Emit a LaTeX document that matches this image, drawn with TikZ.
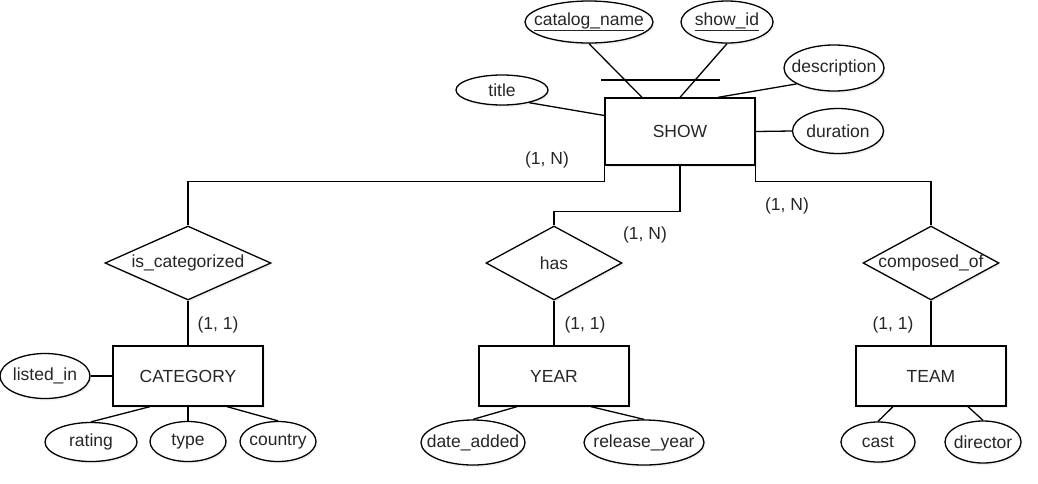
\documentclass[tikz,border=0pt]{standalone}
\usepackage{fontspec}
\setmainfont{Liberation Sans}
\usetikzlibrary{shapes.geometric, shadows}

\begin{document}
\begin{tikzpicture}[
            x=1pt, y=-1pt,
            font=\fontsize{17.5pt}{21pt}\selectfont,
            line width=1.3pt,
            every label/.style={text=black!85},
            soft shadow/.style={
                drop shadow={shadow xshift=1.5pt, shadow yshift=-2pt, opacity=0.12}
            },
            entity/.style={
                rectangle, draw, fill=white, soft shadow,
                minimum width=150pt, minimum height=60pt, inner sep=0pt
            },
            relation/.style={
                diamond, draw, fill=white, soft shadow,
                minimum width=#1, minimum height=74pt, inner sep=0pt
            },
            attr/.style 2 args={
                ellipse, draw, fill=white, soft shadow,
                minimum width=#1, minimum height=#2, inner sep=0pt
            },
            card/.style={text=black!85, inner sep=0pt}
        ]
        \useasboundingbox (0,0) rectangle (1038,483);

        % entities
        \node[entity, minimum height=67pt, label=center:SHOW] (show) at (680,131.5) {};
        \node[entity, label=center:CATEGORY] (category) at (188,376) {};
        \node[entity, label=center:YEAR] (year) at (554,376) {};
        \node[entity, label=center:TEAM] (team) at (931,376) {};

        % relationships
        \node[relation=166pt, label=center:is\_categorized] (iscat) at (188,263) {};
        \node[relation=136pt, label=center:has] (has) at (554,263) {};
        \node[relation=136pt, label=center:composed\_of] (compof) at (931,263) {};

        % attributes of SHOW
        \node[attr={128pt}{42pt}, label=center:\underline{catalog\_name}] (catname) at (589,22) {};
        \node[attr={92pt}{42pt}, label=center:\underline{show\_id}] (showid) at (727,22) {};
        \node[attr={100pt}{46pt}, label=center:description] (descr) at (834,68) {};
        \node[attr={92pt}{30pt}, label=center:title] (title) at (502,90) {};
        \node[attr={91pt}{45pt}, label=center:duration] (durat) at (838,131) {};

        % attributes of the other entities
        \node[attr={90pt}{45pt}, label=center:listed\_in] (listedin) at (45,376) {};
        \node[attr={92pt}{39pt}, label=center:rating] (rating) at (91,442) {};
        \node[attr={76pt}{40pt}, label=center:type] (type) at (188,441.5) {};
        \node[attr={76pt}{40pt}, label=center:country] (country) at (278,441.5) {};
        \node[attr={104pt}{45pt}, label=center:date\_added] (dateadded) at (473,442.5) {};
        \node[attr={120pt}{45pt}, label=center:release\_year] (relyear) at (644,442.5) {};
        \node[attr={74pt}{40pt}, label=center:cast] (cast) at (878,442) {};
        \node[attr={76pt}{42pt}, label=center:director] (director) at (983,442) {};

        % cardinalities
        \node[card] (cardcatN) at (547,160) {(1, N)};
        \node[card] (cardhasN) at (645,235) {(1, N)};
        \node[card] (cardcompN) at (787,206) {(1, N)};
        \node[card] (cardcat1) at (218,325) {(1, 1)};
        \node[card] (cardhas1) at (585,325) {(1, 1)};
        \node[card] (cardcomp1) at (893,325) {(1, 1)};

        % links to SHOW
        \draw (catname.south) -- ([xshift=-38pt]show.north);
        \draw (showid.south) -- (show.north);
        \draw (601,80) -- (720,80);
        \draw (descr.203) -- ([xshift=38pt]show.north);
        \draw (title.335) -- ([yshift=16pt]show.west);
        \draw (show.east) -- (durat.west);

        \draw (show.south west) -- ++(0,16) -| (iscat.north);
        \draw (show.south) -- ++(0,46) -| (has.north);
        \draw (show.south east) -- ++(0,16) -| (compof.north);

        \draw (iscat.south) -- (category.north);
        \draw (has.south) -- (year.north);
        \draw (compof.south) -- (team.north);

        % links to the lower attributes
        \draw (listedin.east) -- (category.west);
        \draw (rating.north) -- ([xshift=-38pt]category.south);
        \draw (type.north) -- (category.south);
        \draw (country.north) -- ([xshift=39pt]category.south);
        \draw (dateadded.north) -- ([xshift=-37pt]year.south);
        \draw (relyear.north) -- ([xshift=37pt]year.south);
        \draw (cast.north) -- ([xshift=-38pt]team.south);
        \draw (director.north) -- ([xshift=37pt]team.south);
    \end{tikzpicture}
\end{document}
